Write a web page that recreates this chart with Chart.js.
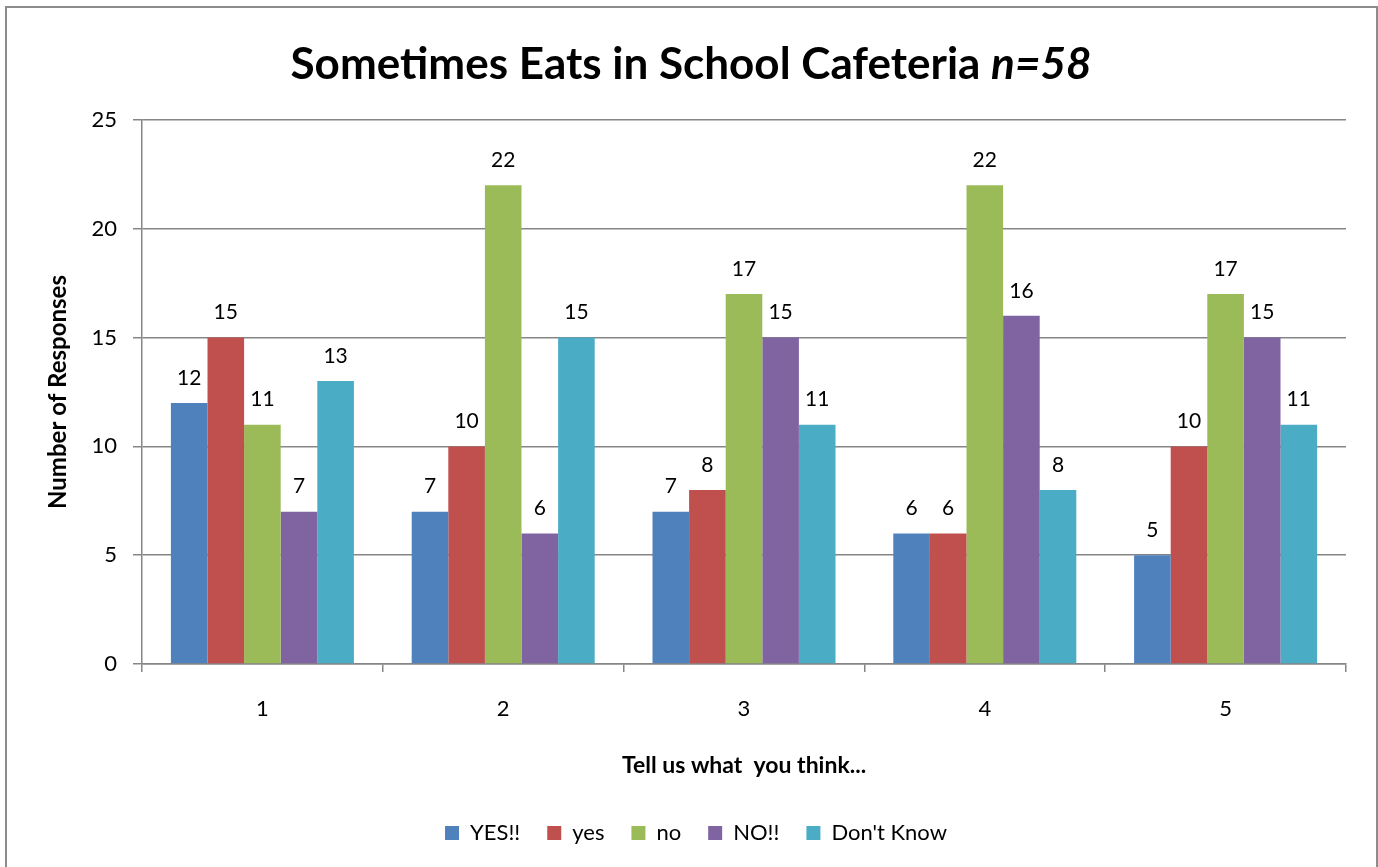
<!DOCTYPE html>
<html>
<head>
<meta charset="utf-8">
<script src="https://cdn.jsdelivr.net/npm/chart.js@4"></script>
<style>
  html, body { margin: 0; padding: 0; background: #fff; }
  #wrap { position: absolute; left: 0; top: 0; width: 1378px; height: 867px; }
  #frame { position: absolute; left: 5px; top: 6px; width: 1369px; height: 900px; border: 2px solid #8c8c8c; pointer-events: none; }
  #title { position: absolute; left: 0; top: 35px; width: 1382px; text-align: center; font-family: Lato, sans-serif; font-weight: bold; font-size: 44px; color: #000; line-height: 54px; white-space: nowrap; }
</style>
</head>
<body>
<div id="wrap"><canvas id="c"></canvas></div>
<div id="frame"></div>
<div id="title">Sometimes Eats in School Cafeteria <i>n=58</i></div>
<script>
const categories = ['1', '2', '3', '4', '5'];
const seriesNames = ['YES!!', 'yes', 'no', 'NO!!', "Don't Know"];
const yesStrong = [12, 7, 7, 6, 5];
const yesMild = [15, 10, 8, 6, 10];
const noMild = [11, 22, 17, 22, 17];
const noStrong = [7, 6, 15, 16, 15];
const dontKnow = [13, 15, 11, 8, 11];
const yTicks = [0, 5, 10, 15, 20, 25];
const colors = ['#4F81BD', '#C0504D', '#9BBB59', '#8064A2', '#4BACC6'];

const seriesValues = [yesStrong, yesMild, noMild, noStrong, dontKnow];
const FONT = 'Lato, sans-serif';

const valueLabels = {
  id: 'valueLabels',
  afterDatasetsDraw(chart) {
    const ctx = chart.ctx;
    ctx.save();
    ctx.font = '21px ' + FONT;
    ctx.fillStyle = '#000';
    ctx.textAlign = 'center';
    ctx.textBaseline = 'middle';
    chart.data.datasets.forEach((ds, i) => {
      const meta = chart.getDatasetMeta(i);
      meta.data.forEach((bar, j) => {
        ctx.fillText(String(ds.data[j]), bar.x, bar.y - 25);
      });
    });
    ctx.restore();
  }
};

new Chart(document.getElementById('c'), {
  type: 'bar',
  data: {
    labels: categories,
    datasets: seriesNames.map((name, i) => ({
      label: name,
      data: seriesValues[i],
      backgroundColor: colors[i],
      borderWidth: 0,
      categoryPercentage: 0.76,
      barPercentage: 1.0
    }))
  },
  options: {
    responsive: true,
    maintainAspectRatio: false,
    animation: false,
    layout: { padding: { left: 46, right: 32, top: 120, bottom: 13 } },
    plugins: {
      title: { display: false },
      tooltip: { enabled: false },
      legend: {
        position: 'bottom',
        labels: {
          boxWidth: 14, boxHeight: 14, padding: 27,
          color: '#000',
          font: { family: FONT, size: 22 }
        }
      }
    },
    scales: {
      x: {
        afterFit(scale) { scale.height = 131; },
        grid: { display: true, drawOnChartArea: false, offset: true, tickLength: 8, color: '#868686', lineWidth: 1.5 },
        border: { display: true, color: '#868686', width: 1.5 },
        ticks: { color: '#000', font: { family: FONT, size: 22 }, padding: 24 },
        title: { display: true, text: 'Tell us what  you think...', color: '#000', font: { family: FONT, size: 23, weight: 'bold' }, padding: { top: 0, bottom: 16 } }
      },
      y: {
        min: 0, max: 25,
        afterFit(scale) { scale.width = 96; },
        afterBuildTicks(scale) { scale.ticks = yTicks.map(v => ({ value: v })); },
        grid: { color: '#868686', lineWidth: 1.5, tickLength: 9 },
        border: { display: true, color: '#868686', width: 1.5 },
        ticks: { color: '#000', font: { family: FONT, size: 22 }, padding: 16 },
        title: { display: true, text: 'Number of Responses', color: '#000', font: { family: FONT, size: 24, weight: 'bold', lineHeight: 1 }, padding: { top: 0, bottom: 0 } }
      }
    }
  },
  plugins: [valueLabels]
});
</script>
</body>
</html>
